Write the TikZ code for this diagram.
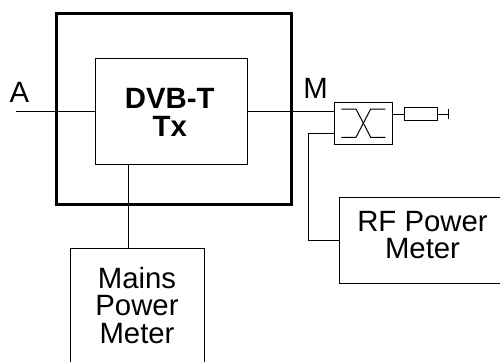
\documentclass[tikz,border=0pt]{standalone}
\usepackage{fontspec}
\setmainfont{Liberation Sans}
\tikzset{
  x=0.75pt,y=-0.75pt,
  box/.style={draw,line width=0.75pt,inner sep=0pt,align=center},
  thick box/.style={draw,line width=2.25pt,inner sep=0pt},
  wire/.style={line width=0.75pt},
  lab/.style={font=\fontsize{22}{20.6}\selectfont,align=center,inner sep=0pt},
}
\begin{document}
\begin{tikzpicture}
\useasboundingbox (0,0) rectangle (500,361);
\node[thick box,minimum width=235*0.75pt,minimum height=190.6*0.75pt] (outer) at (173.5,109) {};
\coordinate (a) at (16,111.7);
\node[box,minimum width=152*0.75pt,minimum height=105.6*0.75pt] (tx) at (171.3,111.5) {};
\node[inner sep=0pt,align=center,font=\fontsize{22}{21}\selectfont\bfseries] (txt) at (169.8,112.6) {DVB-T\\Tx};
\draw[wire] (a) -- (tx.west |- a);
\node[box,minimum width=57.6*0.75pt,minimum height=41.7*0.75pt] (coup) at (363.5,123.2) {};
\draw[wire] (tx.east |- a) -- (coup.west |- a);
\node[box,lab,minimum width=134*0.75pt,minimum height=115*0.75pt] (mains) at (137,305.5) {Mains\\Power\\Meter};
\coordinate (m) at (128.3,164);
\draw[wire] (tx.south -| m) -- (mains.north -| m);
\node[box,minimum width=167*0.75pt,minimum height=85.3*0.75pt] (rf) at (422.5,240.4) {};
\node[lab] (rft) at (422.5,234.8) {RF Power\\Meter};
\coordinate (c1) at (308,133.5);
\coordinate (c2) at (308,240);
\draw[wire] (coup.west |- c1) -- (c1) -- (c2) -- (rf.west |- c2);
\node[lab,anchor=base] (la) at (19.5,102) {A};
\node[lab,anchor=base] (lm) at (315.5,98) {M};
\coordinate (x1) at (341.3,109);
\coordinate (x2) at (356,109);
\coordinate (x3) at (370.7,109);
\coordinate (x4) at (385.3,109);
\coordinate (y1) at (341.3,137.3);
\coordinate (y2) at (356,137.3);
\coordinate (y3) at (370.7,137.3);
\coordinate (y4) at (385.3,137.3);
\draw[wire] (x1) -- (x2) -- (y3) -- (y4);
\draw[wire] (y1) -- (y2) -- (x3) -- (x4);
\node[box,minimum width=33.4*0.75pt,minimum height=13.4*0.75pt] (res) at (421,114) {};
\draw[wire] (coup.east |- res) -- (res.west);
\coordinate (t) at (448.7,114);
\draw[wire] (res.east) -- (t);
\draw[wire] (448.7,109) -- (448.7,119.3);
\end{tikzpicture}
\end{document}
